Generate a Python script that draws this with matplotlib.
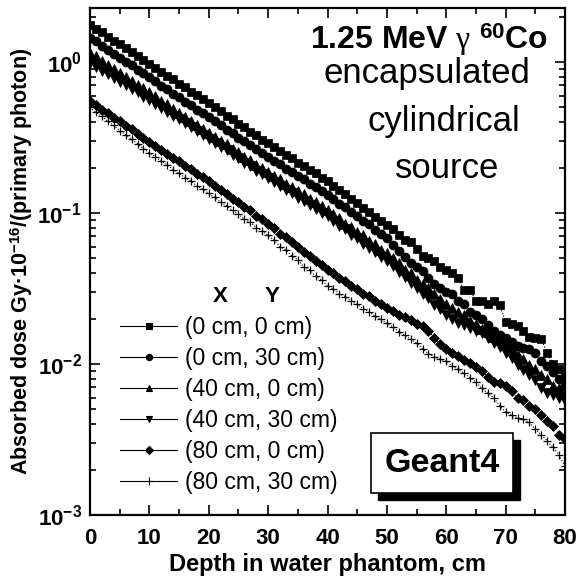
import numpy as np
import matplotlib
matplotlib.use("Agg")
import matplotlib.pyplot as plt
from matplotlib.lines import Line2D
from matplotlib.patches import Rectangle
from matplotlib.ticker import LogLocator, FixedLocator, NullFormatter

plt.rcParams['font.family'] = ['Liberation Sans', 'DejaVu Sans']
plt.rcParams['mathtext.fontset'] = 'custom'
plt.rcParams['mathtext.rm'] = 'Liberation Sans'
plt.rcParams['mathtext.bf'] = 'Liberation Sans:bold'
plt.rcParams['mathtext.it'] = 'Liberation Serif'

depth = np.arange(0, 81, 1)

dose_0_0 = [1.76, 1.65, 1.57, 1.47, 1.38, 1.31, 1.24, 1.16, 1.10, 1.03, 0.97,
            0.912, 0.865, 0.810, 0.768, 0.718, 0.682, 0.638, 0.605, 0.565, 0.532,
            0.500, 0.473, 0.441, 0.418, 0.391, 0.370, 0.346, 0.328, 0.306, 0.290,
            0.273, 0.259, 0.242, 0.231, 0.215, 0.205, 0.192, 0.183, 0.171, 0.162,
            0.152, 0.141, 0.134, 0.123, 0.117, 0.108, 0.102, 0.094, 0.089, 0.083,
            0.078, 0.071, 0.066, 0.064, 0.058, 0.052, 0.050, 0.048, 0.044, 0.042,
            0.040, 0.037, 0.031, 0.031, 0.026, 0.026, 0.025, 0.026, 0.0245, 0.019,
            0.0185, 0.0178, 0.0165, 0.0150, 0.0148, 0.0147, 0.0118, 0.0100, 0.0093, 0.0082]

dose_0_30 = [1.45, 1.37, 1.28, 1.21, 1.13, 1.07, 1.00, 0.95, 0.89, 0.84, 0.79,
             0.745, 0.698, 0.660, 0.618, 0.585, 0.547, 0.518, 0.484, 0.458, 0.430,
             0.404, 0.383, 0.357, 0.339, 0.316, 0.301, 0.281, 0.267, 0.249, 0.235,
             0.221, 0.210, 0.197, 0.188, 0.175, 0.167, 0.156, 0.149, 0.139, 0.132,
             0.124, 0.115, 0.109, 0.101, 0.095, 0.088, 0.084, 0.077, 0.073, 0.068,
             0.061, 0.056, 0.051, 0.047, 0.044, 0.041, 0.037, 0.034, 0.032, 0.030,
             0.029, 0.026, 0.025, 0.022, 0.021, 0.020, 0.018, 0.0165, 0.0155, 0.0148,
             0.0140, 0.0132, 0.0128, 0.0125, 0.0118, 0.0104, 0.0097, 0.0088, 0.0080, 0.0072]

dose_40_0 = [1.15, 1.09, 1.01, 0.96, 0.90, 0.85, 0.80, 0.75, 0.71, 0.67, 0.63,
             0.594, 0.555, 0.525, 0.490, 0.463, 0.433, 0.409, 0.383, 0.362, 0.340,
             0.321, 0.300, 0.285, 0.266, 0.252, 0.236, 0.224, 0.209, 0.198, 0.186,
             0.175, 0.167, 0.156, 0.149, 0.139, 0.133, 0.124, 0.118, 0.111, 0.105,
             0.098, 0.093, 0.085, 0.081, 0.075, 0.071, 0.065, 0.062, 0.057, 0.054,
             0.050, 0.047, 0.042, 0.040, 0.036, 0.034, 0.032, 0.029, 0.027, 0.025,
             0.0236, 0.0220, 0.0210, 0.0194, 0.0185, 0.0171, 0.0164, 0.0151, 0.0144, 0.0135,
             0.0127, 0.0114, 0.0108, 0.0098, 0.0093, 0.0084, 0.0080, 0.0072, 0.0069, 0.0063]

dose_40_30 = [0.98, 0.925, 0.878, 0.827, 0.786, 0.739, 0.703, 0.661, 0.629, 0.591, 0.560,
              0.529, 0.496, 0.470, 0.441, 0.418, 0.392, 0.371, 0.348, 0.330, 0.310,
              0.293, 0.274, 0.260, 0.243, 0.230, 0.215, 0.204, 0.191, 0.181, 0.170,
              0.160, 0.152, 0.142, 0.135, 0.126, 0.120, 0.113, 0.107, 0.100, 0.095,
              0.089, 0.082, 0.078, 0.072, 0.068, 0.062, 0.059, 0.055, 0.051, 0.048,
              0.0445, 0.0405, 0.0378, 0.0343, 0.0320, 0.0290, 0.0272, 0.0246, 0.0230, 0.0210,
              0.0199, 0.0188, 0.0180, 0.0172, 0.0166, 0.0160, 0.0148, 0.0138, 0.0129, 0.0118,
              0.0109, 0.0099, 0.0091, 0.0085, 0.0078, 0.0069, 0.0064, 0.0062, 0.0060, 0.0057]

dose_80_0 = [0.55, 0.52, 0.484, 0.459, 0.427, 0.405, 0.377, 0.358, 0.333, 0.315, 0.295,
             0.279, 0.261, 0.247, 0.231, 0.220, 0.205, 0.195, 0.182, 0.173, 0.162,
             0.152, 0.141, 0.134, 0.124, 0.118, 0.109, 0.104, 0.096, 0.091, 0.085,
             0.080, 0.073, 0.069, 0.064, 0.060, 0.055, 0.052, 0.048, 0.045, 0.042,
             0.0398, 0.0371, 0.0354, 0.0330, 0.0315, 0.0293, 0.0280, 0.0261, 0.0249, 0.0234,
             0.0225, 0.0210, 0.0205, 0.0195, 0.0185, 0.0178, 0.0166, 0.0148, 0.0135, 0.0126,
             0.0118, 0.0113, 0.0107, 0.0102, 0.0095, 0.0090, 0.0082, 0.0076, 0.0075, 0.0072,
             0.0066, 0.0060, 0.0058, 0.0053, 0.0050, 0.0046, 0.0042, 0.0039, 0.0034, 0.0032]

dose_80_30 = [0.50, 0.465, 0.437, 0.405, 0.380, 0.352, 0.331, 0.307, 0.288, 0.267, 0.250,
              0.236, 0.220, 0.209, 0.194, 0.184, 0.171, 0.163, 0.151, 0.144, 0.135,
              0.127, 0.118, 0.112, 0.104, 0.098, 0.091, 0.087, 0.080, 0.076, 0.071,
              0.066, 0.060, 0.057, 0.052, 0.049, 0.044, 0.042, 0.038, 0.036, 0.033,
              0.0313, 0.0292, 0.0279, 0.0260, 0.0249, 0.0232, 0.0222, 0.0207, 0.0198, 0.0186,
              0.0176, 0.0164, 0.0155, 0.0146, 0.0138, 0.0126, 0.0117, 0.0112, 0.0108, 0.0104,
              0.0097, 0.0092, 0.0087, 0.0081, 0.0076, 0.0069, 0.0064, 0.0060, 0.0053, 0.0048,
              0.0046, 0.0044, 0.0043, 0.0041, 0.0037, 0.0034, 0.0031, 0.0028, 0.0025, 0.0021]

labels = ['(0 cm, 0 cm)', '(0 cm, 30 cm)', '(40 cm, 0 cm)',
          '(40 cm, 30 cm)', '(80 cm, 0 cm)', '(80 cm, 30 cm)']
series = [dose_0_0, dose_0_30, dose_40_0, dose_40_30, dose_80_0, dose_80_30]
markers = ['s', 'o', '^', 'v', 'D', '+']
msizes = [6, 6.5, 7, 7, 5.5, 6]

fig = plt.figure(figsize=(5.8, 5.78), dpi=100)
ax = fig.add_axes([90/580, 63/578, 475/580, 507/578])

for vals, m, ms in zip(series, markers, msizes):
    ax.plot(depth, vals, linestyle=':', color='black', lw=0.8,
            marker=m, markersize=ms, markerfacecolor='black',
            markeredgecolor='black', markeredgewidth=0.9 if m == '+' else 0.5)

ax.set_yscale('log')
ax.set_xlim(0, 80)
ax.set_ylim(1e-3, 2.28)

ax.xaxis.set_major_locator(FixedLocator([0, 10, 20, 30, 40, 50, 60, 70, 80]))
ax.xaxis.set_minor_locator(FixedLocator([5, 15, 25, 35, 45, 55, 65, 75]))
ax.set_xticklabels(['0', '10', '20', '30', '40', '50', '60', '70', '80'],
                   fontsize=16, fontweight='bold')
ax.yaxis.set_major_locator(FixedLocator([1e-3, 1e-2, 1e-1, 1e0]))
ax.set_yticklabels([r'$\mathbf{10^{-3}}$', r'$\mathbf{10^{-2}}$',
                    r'$\mathbf{10^{-1}}$', r'$\mathbf{10^{0}}$'], fontsize=16)
ax.yaxis.set_minor_locator(LogLocator(base=10, subs=np.arange(2, 10), numticks=20))
ax.yaxis.set_minor_formatter(NullFormatter())

ax.tick_params(which='both', direction='in', top=True, right=True, width=1.2)
ax.tick_params(which='major', length=7, pad=6)
ax.tick_params(axis='x', which='major', pad=9)
ax.tick_params(which='minor', length=4)
for s in ax.spines.values():
    s.set_linewidth(1.6)

ax.set_xlabel('Depth in water phantom, cm', fontsize=17, fontweight='bold', labelpad=3)
ax.set_ylabel(r'Absorbed dose Gy·10$^{\mathbf{-16}}$/(primary photon)',
              fontsize=15.5, fontweight='bold', labelpad=2)

# annotation texts
fig.text(429/580, 1 - 40/578, r'1.25 MeV $\gamma$ $^{\mathbf{60}}$Co', fontsize=23,
         fontweight='bold', ha='center', va='center')
fig.text(427/580, 1 - 73/578, 'encapsulated', fontsize=25, ha='center', va='center')
fig.text(444/580, 1 - 121/578, 'cylindrical', fontsize=25, ha='center', va='center')
fig.text(447/580, 1 - 168/578, 'source', fontsize=25, ha='center', va='center')

# Geant4 box with shadow
shadow = Rectangle((378/580, 1 - 500/578), 142/580, 60/578, transform=fig.transFigure,
                   facecolor='black', edgecolor='black', zorder=5)
box = Rectangle((371/580, 1 - 493/578), 142/580, 60/578, transform=fig.transFigure,
                facecolor='white', edgecolor='black', lw=1.2, zorder=6)
fig.add_artist(shadow)
fig.add_artist(box)
fig.text(442/580, 1 - 463/578, 'Geant4', fontsize=24.5, fontweight='bold',
         ha='center', va='center', zorder=7)

# legend
handles = [Line2D([0], [0], color='black', lw=0.8, marker=m,
                  markersize=4.5 if m != '+' else 6, markerfacecolor='black',
                  markeredgecolor='black', markeredgewidth=0.8)
           for m in markers]
leg = ax.legend(handles, labels, loc='upper left', bbox_to_anchor=(30/475, (515 - 316)/507),
                frameon=False, fontsize=16.5, handlelength=2.5, handletextpad=0.35,
                labelspacing=0.35, borderaxespad=0, borderpad=0)
fig.text(220/580, 1 - 296/578, 'X', fontsize=16, fontweight='bold', ha='center', va='center')
fig.text(272/580, 1 - 296/578, 'Y', fontsize=16, fontweight='bold', ha='center', va='center')

fig.savefig('out.png', dpi=100)
